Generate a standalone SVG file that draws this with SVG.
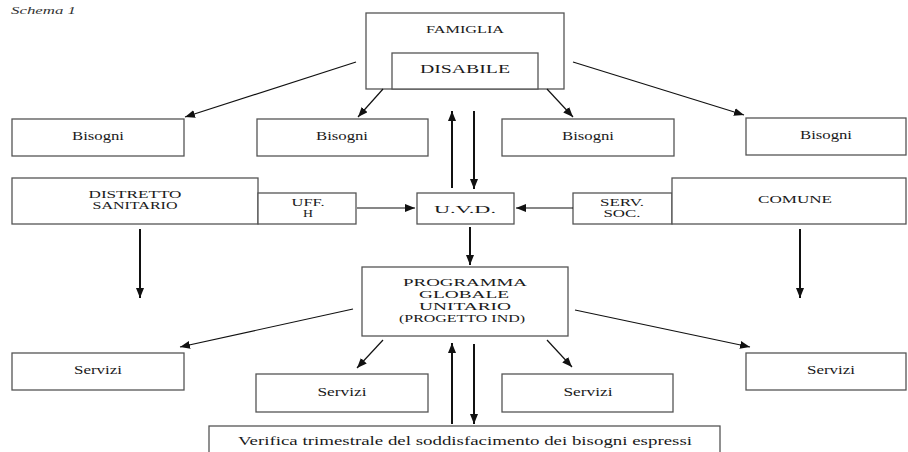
<svg xmlns="http://www.w3.org/2000/svg" width="908" height="452" viewBox="0 0 908 452">
<style>
  .box { fill: #ffffff; stroke: #555555; stroke-width: 1.3; }
  .t { font-family: "Liberation Serif", "DejaVu Serif", serif; fill: #1a1a1a; text-anchor: middle; }
  .s10 { font-size: 10.5px; }
  .s11 { font-size: 11px; }
  .s12 { font-size: 11.5px; }
  .s13 { font-size: 13.5px; }
  .c { stroke: #111111; fill: none; }
  .thin { stroke-width: 1.2; marker-end: url(#ah); }
  .thick { stroke-width: 2; marker-end: url(#ah); }
</style>
<defs>
  <marker id="ah" markerUnits="userSpaceOnUse" markerWidth="12" markerHeight="10" refX="10" refY="4" orient="auto">
    <path d="M0,0 L10,4 L0,8 Z" fill="#111111"/>
  </marker>
</defs>
<rect width="908" height="452" fill="#ffffff"/>
<text x="11" y="14" font-family="'Liberation Serif', serif" font-style="italic" font-size="10" fill="#333333" textLength="65" lengthAdjust="spacingAndGlyphs">Schema 1</text>

<g id="famiglia">
  <rect class="box" x="366" y="13" width="198" height="76"/>
  <text class="t s11" x="465" y="33" textLength="78" lengthAdjust="spacingAndGlyphs">FAMIGLIA</text>
</g>
<g id="disabile">
  <rect class="box" x="392" y="53" width="146" height="36"/>
  <text class="t s13" x="465" y="73" textLength="90" lengthAdjust="spacingAndGlyphs">DISABILE</text>
</g>

<g id="bisogni1">
  <rect class="box" x="12" y="119" width="172" height="37"/>
  <text class="t s12" x="98" y="140" textLength="52" lengthAdjust="spacingAndGlyphs">Bisogni</text>
</g>
<g id="bisogni2">
  <rect class="box" x="257" y="119" width="171" height="37"/>
  <text class="t s12" x="342" y="140" textLength="52" lengthAdjust="spacingAndGlyphs">Bisogni</text>
</g>
<g id="bisogni3">
  <rect class="box" x="502" y="119" width="172" height="37"/>
  <text class="t s12" x="588" y="140" textLength="52" lengthAdjust="spacingAndGlyphs">Bisogni</text>
</g>
<g id="bisogni4">
  <rect class="box" x="746" y="118" width="160" height="37"/>
  <text class="t s12" x="826" y="139" textLength="52" lengthAdjust="spacingAndGlyphs">Bisogni</text>
</g>

<g id="distretto">
  <rect class="box" x="12" y="178" width="246" height="46"/>
  <text class="t s10" x="135" y="197.5" textLength="93" lengthAdjust="spacingAndGlyphs">DISTRETTO</text>
  <text class="t s10" x="135" y="208.5" textLength="85" lengthAdjust="spacingAndGlyphs">SANITARIO</text>
</g>
<g id="uffh">
  <rect class="box" x="258" y="193" width="98" height="31"/>
  <text class="t s10" x="308" y="206" textLength="33" lengthAdjust="spacingAndGlyphs">UFF.</text>
  <text class="t s10" x="308" y="217" textLength="10" lengthAdjust="spacingAndGlyphs">H</text>
</g>
<g id="uvd">
  <rect class="box" x="417" y="193" width="97" height="31"/>
  <text class="t s11" x="465" y="213" textLength="62" lengthAdjust="spacingAndGlyphs">U.V.D.</text>
</g>
<g id="servsoc">
  <rect class="box" x="573" y="193" width="99" height="31"/>
  <text class="t s10" x="622" y="206" textLength="44" lengthAdjust="spacingAndGlyphs">SERV.</text>
  <text class="t s10" x="622" y="217" textLength="37" lengthAdjust="spacingAndGlyphs">SOC.</text>
</g>
<g id="comune">
  <rect class="box" x="672" y="178" width="234" height="46"/>
  <text class="t s11" x="795" y="203" textLength="74" lengthAdjust="spacingAndGlyphs">COMUNE</text>
</g>

<g id="programma">
  <rect class="box" x="362" y="267" width="206" height="69"/>
  <text class="t s11" x="465" y="286" textLength="124" lengthAdjust="spacingAndGlyphs">PROGRAMMA</text>
  <text class="t s11" x="464" y="298" textLength="90" lengthAdjust="spacingAndGlyphs">GLOBALE</text>
  <text class="t s11" x="465" y="310" textLength="92" lengthAdjust="spacingAndGlyphs">UNITARIO</text>
  <text class="t s11" x="462" y="322" textLength="126" lengthAdjust="spacingAndGlyphs">(PROGETTO IND)</text>
</g>

<g id="servizi1">
  <rect class="box" x="12" y="353" width="172" height="37"/>
  <text class="t s12" x="98" y="374" textLength="48" lengthAdjust="spacingAndGlyphs">Servizi</text>
</g>
<g id="servizi2">
  <rect class="box" x="256" y="374" width="172" height="38"/>
  <text class="t s12" x="342" y="396" textLength="49" lengthAdjust="spacingAndGlyphs">Servizi</text>
</g>
<g id="servizi3">
  <rect class="box" x="502" y="374" width="171" height="38"/>
  <text class="t s12" x="588" y="396" textLength="49" lengthAdjust="spacingAndGlyphs">Servizi</text>
</g>
<g id="servizi4">
  <rect class="box" x="746" y="353" width="160" height="37"/>
  <text class="t s12" x="831" y="374" textLength="48" lengthAdjust="spacingAndGlyphs">Servizi</text>
</g>

<g id="verifica">
  <rect class="box" x="209" y="426" width="511" height="40"/>
  <text class="t s12" x="465" y="445" textLength="454" lengthAdjust="spacingAndGlyphs">Verifica trimestrale del soddisfacimento dei bisogni espressi</text>
</g>

<g id="connectors">
  <line class="c thin" x1="356" y1="62" x2="185" y2="117"/>
  <line class="c thin" x1="573" y1="62" x2="744" y2="115"/>
  <line class="c thin" x1="383" y1="89" x2="358" y2="117"/>
  <line class="c thin" x1="547" y1="89" x2="573" y2="117"/>
  <line class="c thick" x1="452" y1="188" x2="452" y2="111"/>
  <line class="c thick" x1="474" y1="111" x2="474" y2="189"/>
  <line class="c thin" x1="357" y1="208" x2="415" y2="208"/>
  <line class="c thin" x1="573" y1="208" x2="516" y2="208"/>
  <line class="c thick" x1="470" y1="227" x2="470" y2="265"/>
  <line class="c thick" x1="140" y1="229" x2="140" y2="298"/>
  <line class="c thick" x1="800" y1="229" x2="800" y2="298"/>
  <line class="c thin" x1="353" y1="309" x2="180" y2="347"/>
  <line class="c thin" x1="575" y1="310" x2="750" y2="347"/>
  <line class="c thin" x1="383" y1="340" x2="357" y2="368"/>
  <line class="c thin" x1="547" y1="340" x2="572" y2="367"/>
  <line class="c thick" x1="452" y1="424" x2="452" y2="343"/>
  <line class="c thick" x1="474" y1="344" x2="474" y2="424"/>
</g>
</svg>
